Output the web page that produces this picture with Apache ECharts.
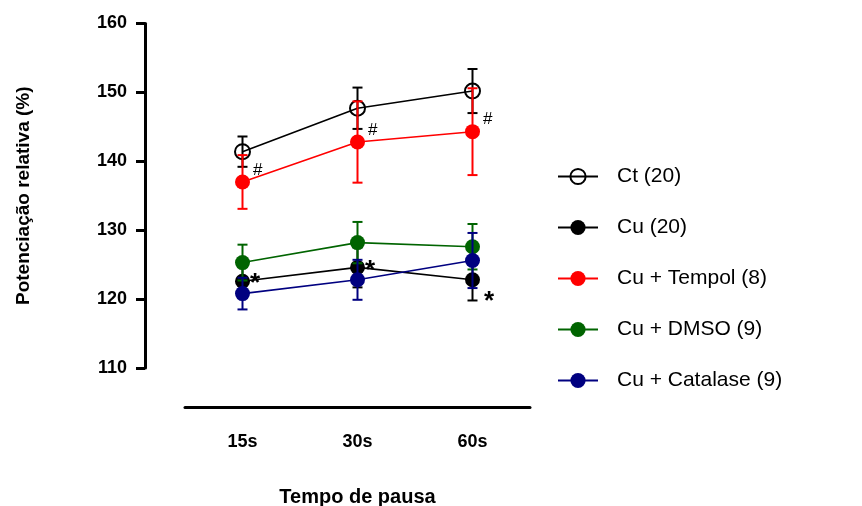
<!DOCTYPE html>
<html>
<head>
<meta charset="utf-8">
<script src="https://cdn.jsdelivr.net/npm/echarts@6/dist/echarts.min.js"></script>
<style>
  html, body { margin: 0; padding: 0; background: #fff; }
  #chart { width: 862px; height: 506px; }
</style>
</head>
<body>
<div id="chart"></div>
<script>
var categories = ['15s', '30s', '60s'];
var yTicks = [110, 120, 130, 140, 150, 160];

var ctMean = [141.4, 147.7, 150.2];
var ctSem = [2.2, 3.0, 3.2];
var cuMean = [122.6, 124.6, 122.8];
var cuSem = [2.3, 2.9, 3.0];
var tempolMean = [137.0, 142.8, 144.3];
var tempolSem = [3.9, 5.9, 6.3];
var dmsoMean = [125.3, 128.2, 127.6];
var dmsoSem = [2.6, 3.0, 3.3];
var catalaseMean = [120.8, 122.8, 125.6];
var catalaseSem = [2.3, 2.9, 4.0];

var tempolMarks = ['#', '#', '#'];
var cuMarks = ['*', '*', '*'];

var groups = [
  { name: 'Ct (20)', mean: ctMean, sem: ctSem, color: '#000000', hollow: true },
  { name: 'Cu (20)', mean: cuMean, sem: cuSem, color: '#000000' },
  { name: 'Cu + Tempol (8)', mean: tempolMean, sem: tempolSem, color: '#ff0000' },
  { name: 'Cu + DMSO (9)', mean: dmsoMean, sem: dmsoSem, color: '#006400' },
  { name: 'Cu + Catalase (9)', mean: catalaseMean, sem: catalaseSem, color: '#000080' }
];

function errorBars(color) {
  return function (params, api) {
    var i = api.value(0), m = api.value(1), s = api.value(2);
    var hi = api.coord([i, m + s]);
    var lo = api.coord([i, m - s]);
    var w = 5;
    var st = { stroke: color, lineWidth: 2 };
    return {
      type: 'group',
      children: [
        { type: 'line', shape: { x1: hi[0], y1: hi[1], x2: lo[0], y2: lo[1] }, style: st },
        { type: 'line', shape: { x1: hi[0] - w, y1: hi[1], x2: hi[0] + w, y2: hi[1] }, style: st },
        { type: 'line', shape: { x1: lo[0] - w, y1: lo[1], x2: lo[0] + w, y2: lo[1] }, style: st }
      ]
    };
  };
}

var series = [];
groups.forEach(function (g, gi) {
  series.push({
    type: 'custom',
    renderItem: errorBars(g.color),
    data: g.mean.map(function (v, i) { return [i, v, g.sem[i]]; }),
    z: 3 + gi
  });
  var s = {
    name: g.name,
    type: 'line',
    data: g.mean.slice(),
    symbol: 'circle',
    symbolSize: 15,
    lineStyle: { color: g.color, width: 1.6 },
    itemStyle: g.hollow
      ? { color: 'rgba(0,0,0,0)', borderColor: g.color, borderWidth: 2 }
      : { color: g.color },
    z: 3 + gi
  };
  if (g.mean === tempolMean) {
    s.data = tempolMean.map(function (v, i) {
      return { value: v, label: { show: true, formatter: tempolMarks[i], position: 'right', offset: [-2, -12], fontSize: 17, color: '#000', fontFamily: 'Liberation Sans' } };
    });
  }
  if (g.mean === cuMean) {
    s.data = cuMean.map(function (v, i) {
      return { value: v, label: { show: true, formatter: cuMarks[i], position: 'right', distance: 2, offset: i === 2 ? [2, 22] : [-2, 3], fontSize: 26, fontWeight: 'bold', color: '#000', fontFamily: 'Liberation Sans' } };
    });
  }
  series.push(s);
});

var option = {
  animation: false,
  backgroundColor: '#fff',
  textStyle: { fontFamily: 'Liberation Sans' },
  grid: { left: 185, top: 23.5, width: 345, height: 344.5, outerBoundsMode: 'none', containLabel: false },
  legend: {
    data: groups.map(function (g) { return g.name; }),
    orient: 'vertical',
    left: 552,
    top: 161,
    itemWidth: 40,
    itemHeight: 19,
    itemGap: 30,
    textStyle: { fontSize: 21, color: '#000', padding: [0, 0, 0, 14] }
  },
  xAxis: {
    type: 'category',
    data: categories,
    offset: 39,
    axisLine: { lineStyle: { color: '#000', width: 3 } },
    axisTick: { alignWithLabel: true, length: 10, lineStyle: { width: 3, color: '#000' } },
    axisLabel: { fontSize: 18, fontWeight: 'bold', color: '#000', margin: 26 },
    name: 'Tempo de pausa',
    nameLocation: 'middle',
    nameGap: 80,
    nameTextStyle: { fontSize: 20, fontWeight: 'bold', color: '#000' }
  },
  yAxis: {
    type: 'value',
    min: yTicks[0],
    max: yTicks[yTicks.length - 1],
    interval: 10,
    offset: 40,
    splitLine: { show: false },
    axisLine: { show: true, lineStyle: { color: '#000', width: 3 } },
    axisTick: { show: true, length: 9, lineStyle: { width: 3, color: '#000' } },
    axisLabel: { fontSize: 18, fontWeight: 'bold', color: '#000', margin: 18 },
    name: 'Potenciação relativa (%)',
    nameLocation: 'middle',
    nameGap: 112,
    nameTextStyle: { fontSize: 19, fontWeight: 'bold', color: '#000' }
  },
  series: series
};

var chart = echarts.init(document.getElementById('chart'));
chart.setOption(option);
</script>
</body>
</html>
